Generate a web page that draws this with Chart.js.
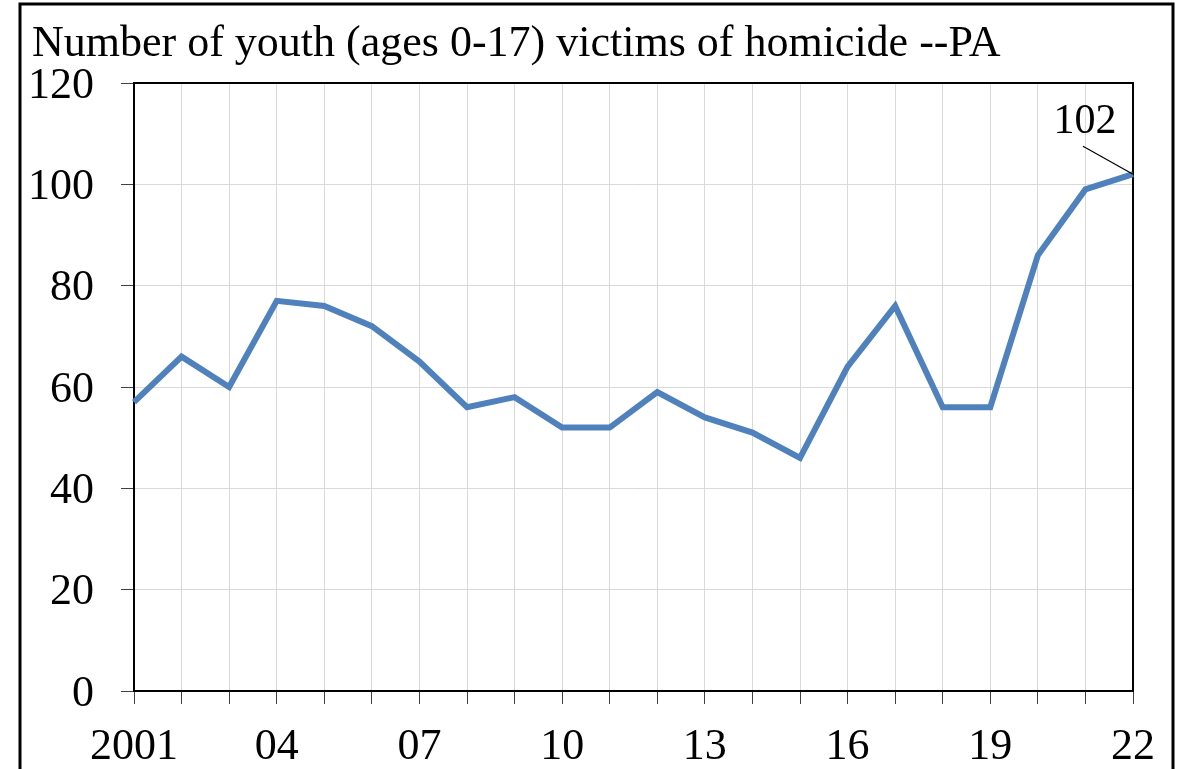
<!DOCTYPE html>
<html>
<head>
<meta charset="utf-8">
<script src="https://cdn.jsdelivr.net/npm/chart.js@4.4.1/dist/chart.umd.min.js"></script>
<style>
  html, body { margin: 0; padding: 0; background: #fff; }
</style>
</head>
<body>
<canvas id="myChart" width="1183" height="769"></canvas>
<script>
'use strict';

// chart data

let chartTitle = 'Number of youth (ages 0-17) victims of homicide --PA';
let years = ['2001', '2002', '2003', '2004', '2005', '2006', '2007', '2008', '2009', '2010', '2011',
  '2012', '2013', '2014', '2015', '2016', '2017', '2018', '2019', '2020', '2021', '2022'];
let victims = [57, 66, 60, 77, 76, 72, 65, 56, 58, 52, 52, 59, 54, 51, 46, 64, 76, 56, 56, 86, 99, 102];
let xTickLabels = ['2001', '04', '07', '10', '13', '16', '19', '22'];
let yTicks = [0, 20, 40, 60, 80, 100, 120];

let serif = "'Liberation Serif', 'DejaVu Serif', serif";

// frame, plot border, title and end label
let decorPlugin = {
  id: 'decor',
  beforeDraw(chart) {
    let ctx = chart.ctx;
    ctx.save();
    ctx.fillStyle = '#fff';
    ctx.fillRect(0, 0, chart.width, chart.height);
    ctx.strokeStyle = '#000';
    ctx.lineWidth = 3;
    ctx.strokeRect(20, 4, 1153, 800);
    ctx.restore();
  },
  beforeDatasetsDraw(chart) {
    let ctx = chart.ctx;
    let a = chart.chartArea;
    ctx.save();
    ctx.strokeStyle = '#000';
    ctx.lineWidth = 2;
    ctx.strokeRect(a.left, a.top, a.right - a.left, a.bottom - a.top);
    ctx.restore();
  },
  afterDatasetsDraw(chart) {
    let ctx = chart.ctx;
    ctx.save();
    ctx.fillStyle = '#000';
    ctx.font = '44px ' + serif;
    ctx.textAlign = 'left';
    ctx.textBaseline = 'alphabetic';
    ctx.fillText(chartTitle, 32, 56);

    // label for the last point
    let meta = chart.getDatasetMeta(0);
    let last = meta.data[meta.data.length - 1];
    ctx.strokeStyle = '#000';
    ctx.lineWidth = 1.2;
    ctx.beginPath();
    ctx.moveTo(last.x - 50, last.y - 28);
    ctx.lineTo(last.x, last.y);
    ctx.stroke();
    ctx.font = '42px ' + serif;
    ctx.textAlign = 'center';
    ctx.fillText(String(victims[victims.length - 1]), last.x - 48, last.y - 41);
    ctx.restore();
  }
};

const data = {
  labels: years,
  datasets: [{
    label: 'Victims',
    data: victims,
    borderColor: '#4f81bd',
    backgroundColor: '#4f81bd',
    borderWidth: 6,
    pointRadius: 0,
    tension: 0,
    fill: false
  }]
};

const config = {
  type: 'line',
  data: data,
  options: {
    responsive: false,
    animation: false,
    devicePixelRatio: 1,
    layout: {
      padding: { left: 20, right: 50, top: 83, bottom: 0 }
    },
    plugins: {
      legend: { display: false },
      tooltip: { enabled: false },
      title: { display: false }
    },
    scales: {
      x: {
        offset: false,
        border: { display: false },
        grid: {
          color: '#d9d9d9',
          lineWidth: 1,
          tickColor: '#404040',
          tickLength: 13,
          drawTicks: true
        },
        ticks: {
          autoSkip: false,
          maxRotation: 0,
          minRotation: 0,
          padding: 17,
          color: '#000',
          font: { family: serif, size: 44 },
          callback: function (value, index) {
            return index % 3 === 0 ? xTickLabels[index / 3] : '';
          }
        },
        afterFit: function (scale) {
          scale.height = 78;
        }
      },
      y: {
        min: yTicks[0],
        max: yTicks[yTicks.length - 1],
        border: { display: false },
        grid: {
          color: '#d9d9d9',
          lineWidth: 1,
          tickColor: '#404040',
          tickLength: 13
        },
        ticks: {
          stepSize: yTicks[1] - yTicks[0],
          padding: 27,
          labelOffset: 3,
          color: '#000',
          font: { family: serif, size: 44, lineHeight: 1.05 }
        },
        afterFit: function (scale) {
          scale.width = 114;
        }
      }
    }
  },
  plugins: [decorPlugin]
};

let canvasChart = document.getElementById('myChart');
const myChart = new Chart(canvasChart, config);
</script>
</body>
</html>
